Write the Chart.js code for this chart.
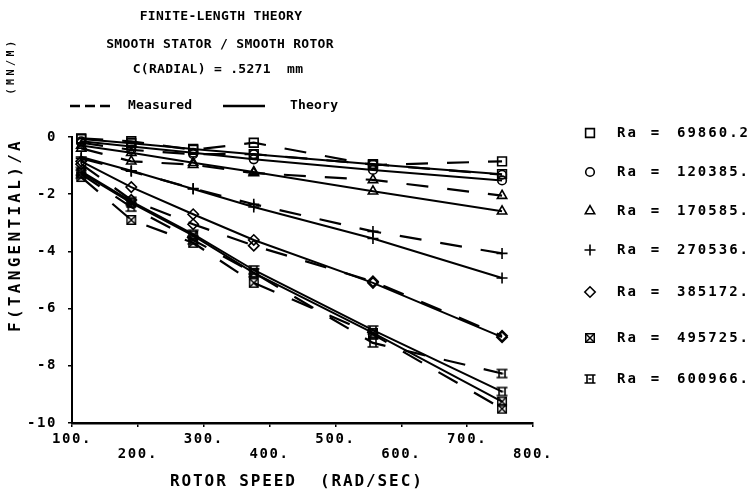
<!DOCTYPE html>
<html><head><meta charset="utf-8">
<script src="https://cdn.jsdelivr.net/npm/chart.js@4.4.1/dist/chart.umd.min.js"></script>
<style>html,body{margin:0;padding:0;background:#fff;}canvas{display:block;}</style>
</head><body>
<canvas id="c" width="756" height="492"></canvas>
<script>
// ---- data ----
const speeds = [114, 190, 284, 376, 557, 753];           // rotor speed (rad/sec)
const raLabels = ['69860.2', '120385.', '170585.', '270536.', '385172.', '495725.', '600966.'];

// measured F(tangential)/A (MN/M)
const meas1 = [-0.05, -0.15, -0.45, -0.20, -0.98, -0.85];
const meas2 = [-0.20, -0.45, -0.60, -0.60, -0.95, -1.32];
const meas3 = [-0.40, -0.85, -0.97, -1.26, -1.50, -2.05];
const meas4 = [-0.75, -1.20, -1.80, -2.35, -3.30, -4.07];
const meas5 = [-0.95, -2.20, -3.05, -3.80, -5.05, -6.95];
const meas6 = [-1.40, -2.90, -3.70, -5.10, -6.90, -9.50];
const meas7 = [-1.30, -2.45, -3.60, -4.75, -7.20, -8.27];

// theory F(tangential)/A (MN/M)
const theo1 = [-0.07, -0.22, -0.42, -0.60, -0.95, -1.30];
const theo2 = [-0.15, -0.33, -0.55, -0.78, -1.15, -1.52];
const theo3 = [-0.30, -0.55, -0.90, -1.22, -1.90, -2.60];
const theo4 = [-0.70, -1.18, -1.82, -2.45, -3.55, -4.93];
const theo5 = [-0.85, -1.75, -2.70, -3.60, -5.10, -7.00];
const theo6 = [-1.25, -2.30, -3.45, -4.75, -6.85, -9.25];
const theo7 = [-1.20, -2.25, -3.40, -4.65, -6.75, -8.90];

const xTicks = [100, 200, 300, 400, 500, 600, 700, 800];
const yTicks = [0, -2, -4, -6, -8, -10];
const titleLines = ['FINITE-LENGTH THEORY', 'SMOOTH STATOR / SMOOTH ROTOR', 'C(RADIAL) = .5271  mm'];
const legendTop = ['Measured', 'Theory'];
const xTitle = 'ROTOR SPEED  (RAD/SEC)';
const yTitle = 'F(TANGENTIAL)/A';
const yUnit = '(MN/M)';

const measured = [meas1, meas2, meas3, meas4, meas5, meas6, meas7];
const theory = [theo1, theo2, theo3, theo4, theo5, theo6, theo7];

// ---- custom marker glyphs ----
function boxX() {
  const c = document.createElement('canvas'); c.width = 12; c.height = 12;
  const g = c.getContext('2d'); g.strokeStyle = '#000'; g.lineWidth = 1.5;
  g.strokeRect(1.75, 1.75, 8.5, 8.5);
  g.beginPath(); g.moveTo(2, 2); g.lineTo(10, 10); g.moveTo(10, 2); g.lineTo(2, 10); g.stroke();
  return c;
}
function boxH() {
  const c = document.createElement('canvas'); c.width = 12; c.height = 12;
  const g = c.getContext('2d'); g.strokeStyle = '#000'; g.lineWidth = 1.6;
  g.beginPath();
  g.moveTo(0.5, 2); g.lineTo(11.5, 2); g.moveTo(0.5, 10); g.lineTo(11.5, 10);
  g.moveTo(3, 2); g.lineTo(3, 10); g.moveTo(9, 2); g.lineTo(9, 10);
  g.moveTo(4.5, 6); g.lineTo(7.5, 6);
  g.stroke();
  return c;
}
const markers = [
  {style: 'rect', r: 6.2},
  {style: 'circle', r: 4.3},
  {style: 'triangle', r: 5.4},
  {style: 'cross', r: 5.5},
  {style: 'rectRot', r: 5.2},
  {style: boxX(), r: 6},
  {style: boxH(), r: 6}
];

const datasets = [];
for (let s = 0; s < 7; s++) {
  const mk = markers[s];
  const base = {
    borderColor: '#000', borderWidth: 2, pointStyle: mk.style, pointRadius: mk.r,
    pointBorderColor: '#000', pointBackgroundColor: 'rgba(0,0,0,0)', pointBorderWidth: 1.6,
    fill: false, tension: 0, clip: false
  };
  datasets.push(Object.assign({}, base, {
    label: 'Measured Ra = ' + raLabels[s], borderDash: [22, 19], borderWidth: 2.2,
    data: speeds.map((x, i) => ({x, y: measured[s][i]}))
  }));
  datasets.push(Object.assign({}, base, {
    label: 'Theory Ra = ' + raLabels[s],
    data: speeds.map((x, i) => ({x, y: theory[s][i]}))
  }));
}

const MONO = '"DejaVu Sans Mono", "Liberation Mono", monospace';

const textPlugin = {
  id: 'texts',
  beforeDraw(chart) { chart.ctx.letterSpacing = '1.6px'; },
  afterDraw(chart) {
    const ctx = chart.ctx;
    ctx.save();
    ctx.fillStyle = '#000'; ctx.strokeStyle = '#000';
    const txt = (s, x, y, font, align, ls) => {
      ctx.font = font; ctx.letterSpacing = (ls || 0) + 'px';
      ctx.textAlign = align; ctx.textBaseline = 'middle'; ctx.fillStyle = '#000'; ctx.fillText(s, x, y);
    };
    // titles
    const tf = 'bold 13px ' + MONO;
    txt(titleLines[0], 221, 17, tf, 'center', 0.3);
    txt(titleLines[1], 220, 45, tf, 'center', 0.3);
    txt(titleLines[2], 218, 70, tf, 'center', 0.3);
    // top legend
    ctx.lineWidth = 2.4;
    ctx.setLineDash([10, 5]);
    ctx.beginPath(); ctx.moveTo(70, 106); ctx.lineTo(113, 106); ctx.stroke();
    ctx.setLineDash([]);
    ctx.beginPath(); ctx.moveTo(223, 106); ctx.lineTo(265, 106); ctx.stroke();
    txt(legendTop[0], 128, 106, 'bold 13px ' + MONO, 'left', 0.2);
    txt(legendTop[1], 290, 106, 'bold 13px ' + MONO, 'left', 0.2);
    // right legend
    const rows = [133, 172, 211, 250, 292, 338, 379];
    const lf = 'bold 14px ' + MONO;
    for (let s = 0; s < 7; s++) {
      const y = rows[s];
      ctx.lineWidth = 1.6;
      ctx.fillStyle = 'rgba(0,0,0,0)';
      Chart.helpers.drawPoint(ctx, {pointStyle: markers[s].style, radius: markers[s].r, rotation: 0, borderWidth: 1.6}, 590, y);
      txt('Ra', 617, y, lf, 'left', 2);
      txt('=', 655, y, lf, 'center', 0);
      txt(raLabels[s], 677, y, lf, 'left', 2);
    }
    // axis titles
    txt(xTitle, 170, 482, 'bold 16px ' + MONO, 'left', 1.9);
    ctx.save(); ctx.translate(16, 235); ctx.rotate(-Math.PI / 2);
    txt(yTitle, 0, 0, 'bold 16px ' + MONO, 'center', 3.3);
    ctx.restore();
    ctx.save(); ctx.translate(11, 66); ctx.rotate(-Math.PI / 2);
    txt(yUnit, 0, 0, 'bold 10px ' + MONO, 'center', 3.5);
    ctx.restore();
    ctx.restore();
  }
};

new Chart(document.getElementById('c'), {
  type: 'line',
  data: {datasets},
  plugins: [textPlugin],
  options: {
    responsive: false, animation: false, devicePixelRatio: 1,
    layout: {padding: {left: 0, top: 137, right: 223, bottom: 0}},
    plugins: {legend: {display: false}, tooltip: {enabled: false}, title: {display: false}},
    scales: {
      x: {
        type: 'linear', min: xTicks[0], max: xTicks[xTicks.length - 1],
        afterFit(s) { s.height = 69; },
        afterBuildTicks(s) { s.ticks = xTicks.map(v => ({value: v})); },
        ticks: {
          padding: 5, color: '#000', maxRotation: 0, autoSkip: false,
          font: {family: MONO, weight: 'bold', size: 14, lineHeight: 1.05},
          callback: v => ((v / 100) % 2 === 1 ? [v + '.'] : ['', v + '.'])
        },
        grid: {drawOnChartArea: false, tickLength: 4, color: '#000', lineWidth: 1.5},
        border: {display: true, color: '#000', width: 2.5}
      },
      y: {
        min: -10, max: 0,
        afterFit(s) { s.width = 72; },
        afterBuildTicks(s) { s.ticks = yTicks.map(v => ({value: v})); },
        ticks: {padding: 11, color: '#000', font: {family: MONO, weight: 'bold', size: 14}, callback: v => String(v)},
        grid: {drawOnChartArea: false, tickLength: 4, color: '#000', lineWidth: 1.5},
        border: {display: true, color: '#000', width: 2}
      }
    }
  }
});
</script>
</body></html>
